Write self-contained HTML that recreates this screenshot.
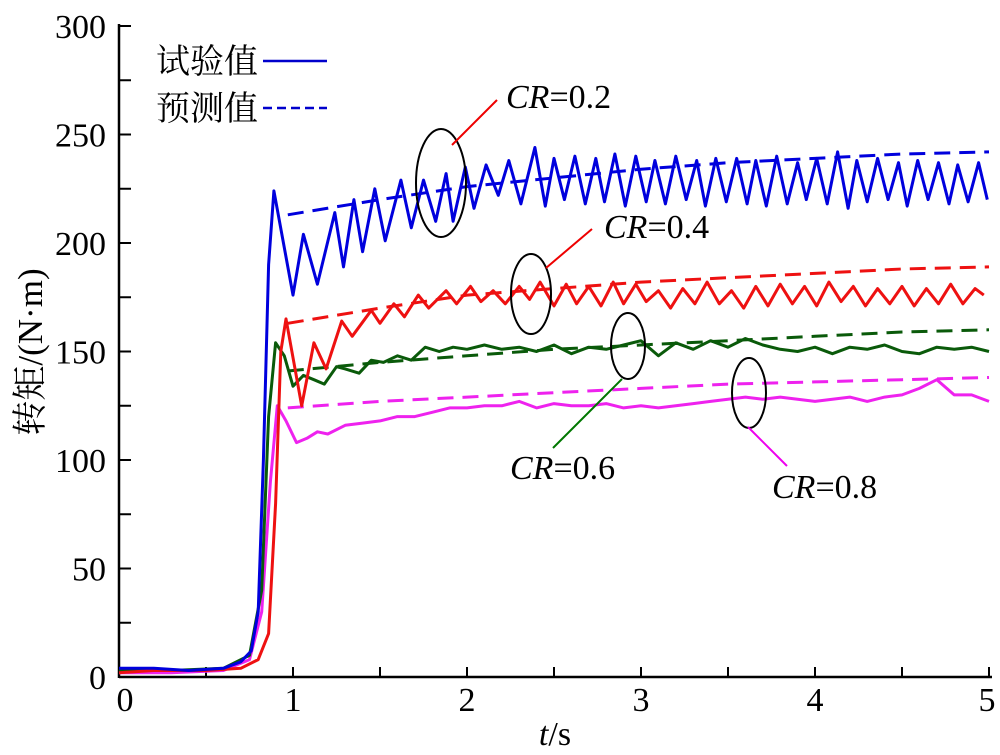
<!DOCTYPE html>
<html><head><meta charset="utf-8"><style>
body{margin:0;background:#fff}
text{font-family:"Liberation Serif","Noto Serif CJK SC",serif;fill:#000}
</style></head><body>
<svg id="chart" width="1000" height="750" xmlns="http://www.w3.org/2000/svg">
<g id="axes"></g>
<g id="series"></g>
<g id="annot">
<ellipse cx="441" cy="183" rx="25" ry="54" fill="none" stroke="#000" stroke-width="2"/>
<line x1="452" y1="145" x2="497" y2="100" stroke="#e00" stroke-width="2"/>
<text x="506" y="108" font-size="34"><tspan font-style="italic">CR</tspan>=0.2</text>
<ellipse cx="531" cy="294" rx="20" ry="40" fill="none" stroke="#000" stroke-width="2"/>
<line x1="546" y1="268" x2="592" y2="229" stroke="#e00" stroke-width="2"/>
<text x="604" y="238" font-size="34"><tspan font-style="italic">CR</tspan>=0.4</text>
<ellipse cx="628" cy="346" rx="17" ry="33" fill="none" stroke="#000" stroke-width="2"/>
<line x1="622" y1="379" x2="553" y2="448" stroke="#070" stroke-width="2"/>
<text x="510" y="479" font-size="34"><tspan font-style="italic">CR</tspan>=0.6</text>
<ellipse cx="749" cy="393" rx="17" ry="35" fill="none" stroke="#000" stroke-width="2"/>
<line x1="748" y1="427" x2="787" y2="466" stroke="#e0e" stroke-width="2"/>
<text x="772" y="498" font-size="34"><tspan font-style="italic">CR</tspan>=0.8</text>
</g>
<g>
<text x="156" y="73" font-size="34" font-family="Noto Sans CJK SC, sans-serif">试验值</text>
<line x1="263" y1="61" x2="327" y2="61" stroke="#00c" stroke-width="2.5"/>
<text x="156" y="120" font-size="34" font-family="Noto Sans CJK SC, sans-serif">预测值</text>
<line x1="263" y1="108" x2="327" y2="108" stroke="#00c" stroke-width="2.5" stroke-dasharray="9,5"/>
</g>
<text transform="translate(42,352) rotate(-90)" text-anchor="middle" font-size="35" font-family="Noto Sans CJK SC, sans-serif">转矩/(N·m)</text>
<text x="555" y="745" text-anchor="middle" font-size="34"><tspan font-style="italic">t</tspan>/s</text>
</svg>
<script>
const xTicks=[0,1,2,3,4,5];
const yTicks=[0,50,100,150,200,250,300];
const blueT=[0,0.2,0.4,0.6,0.7,0.76,0.8,0.83,0.86,0.89,1.0,1.06,1.14,1.24,1.29,1.35,1.40,1.47,1.53,1.62,1.68,1.75,1.82,1.88,1.92,1.99,2.04,2.11,2.18,2.24,2.31,2.39,2.45,2.5,2.56,2.62,2.68,2.74,2.79,2.85,2.91,2.97,3.03,3.08,3.14,3.2,3.26,3.32,3.37,3.43,3.49,3.55,3.61,3.66,3.72,3.78,3.84,3.9,3.95,4.01,4.07,4.13,4.19,4.24,4.3,4.36,4.42,4.48,4.53,4.59,4.65,4.71,4.77,4.82,4.88,4.94,4.99];
const blueV=[4,4,3,4,7,12,30,100,190,224,176,204,181,214,189,220,196,225,201,229,207,229,210,232,210,235,216,236,222,238,218,244,217,239,220,240,218,239,219,241,217,240,219,238,218,240,220,238,217,239,219,239,218,238,217,240,218,237,220,239,218,242,216,238,219,239,220,237,217,238,220,237,218,236,219,237,220];
const redT=[0,0.2,0.5,0.7,0.8,0.86,0.9,0.93,0.96,1.05,1.12,1.19,1.28,1.34,1.45,1.5,1.58,1.64,1.72,1.78,1.88,1.94,2.02,2.08,2.15,2.22,2.3,2.36,2.42,2.5,2.57,2.63,2.7,2.77,2.84,2.9,2.97,3.03,3.1,3.17,3.24,3.31,3.38,3.45,3.52,3.59,3.66,3.73,3.8,3.87,3.94,4.01,4.08,4.15,4.22,4.29,4.36,4.43,4.5,4.57,4.64,4.71,4.78,4.85,4.92,4.97];
const redV=[2,3,3,4,8,20,80,150,165,125,154,142,164,157,169,163,172,166,176,170,178,172,180,173,178,172,180,174,182,171,181,172,180,171,182,172,181,173,178,170,179,172,182,172,178,170,180,171,181,172,180,171,182,173,180,171,179,172,180,171,179,172,181,172,179,176];
const greenT=[0,0.3,0.6,0.75,0.82,0.86,0.9,0.95,1.0,1.06,1.12,1.18,1.25,1.3,1.38,1.45,1.52,1.6,1.68,1.76,1.84,1.92,2.0,2.1,2.2,2.3,2.4,2.5,2.6,2.7,2.8,2.9,3.0,3.1,3.2,3.3,3.4,3.5,3.6,3.7,3.8,3.9,4.0,4.1,4.2,4.3,4.4,4.5,4.6,4.7,4.8,4.9,5.0];
const greenV=[3,3,4,10,40,120,154,148,134,139,137,135,143,142,140,146,145,148,146,152,150,152,151,153,151,152,150,153,149,152,151,153,155,148,154,151,155,152,156,153,151,150,152,149,152,151,153,150,149,152,151,152,150];
const pinkT=[0,0.3,0.6,0.75,0.82,0.87,0.91,0.96,1.02,1.08,1.14,1.2,1.3,1.4,1.5,1.6,1.7,1.8,1.9,2.0,2.1,2.2,2.3,2.4,2.5,2.6,2.7,2.8,2.9,3.0,3.1,3.2,3.3,3.4,3.5,3.6,3.7,3.8,3.9,4.0,4.1,4.2,4.3,4.4,4.5,4.6,4.7,4.8,4.9,5.0];
const pinkV=[2,2,3,8,30,90,125,118,108,110,113,112,116,117,118,120,120,122,124,124,125,125,127,124,126,125,125,126,124,125,124,125,126,127,128,129,128,129,128,127,128,129,127,129,130,133,137,130,130,127];
const predT=[0.97,1.5,2,2.5,3,3.5,4,4.5,5];
const predBlue=[213,220,226,230,234,237,239,241,242];
const predRed=[163,170,176,179,182,184,186,188,189];
const predGreen=[141,145,148,151,153,155,157,159,160];
const predPink=[124,127,129,131,133,135,136,137,138];

const NS='http://www.w3.org/2000/svg';
const X0=119,XS=174,Y0=677,YS=2.17;
const sx=t=>X0+t*XS, sy=v=>Y0-v*YS;
function mk(tag,parent,attrs){const e=document.createElementNS(NS,tag);for(const k in attrs)e.setAttribute(k,attrs[k]);parent.appendChild(e);return e;}
const ax=document.getElementById('axes');
let e=mk('line',ax,{x1:X0,y1:Y0,x2:992,y2:Y0,stroke:'#000','stroke-width':2.5});


e=mk('line',ax,{x1:X0,y1:Y0+1,x2:X0,y2:sy(300)-2,stroke:'#000','stroke-width':2.5});


for(let t=0;t<=5.001;t+=0.5){e=mk('line',ax,{x1:sx(t),y1:Y0,x2:sx(t),y2:Y0-10,stroke:'#000','stroke-width':2});

}
for(let v=0;v<=300;v+=25){e=mk('line',ax,{x1:X0,y1:sy(v),x2:X0+12,y2:sy(v),stroke:'#000','stroke-width':2});

}
xTicks.forEach(t=>{e=mk('text',ax,{x:sx(t)+(t==0?6:(t==5?-2:0)),y:711,'text-anchor':'middle','font-size':34});e.textContent=t;

});
yTicks.forEach(v=>{e=mk('text',ax,{x:106,y:sy(v)+12,'text-anchor':'end','font-size':34});e.textContent=v;

});
const sg=document.getElementById('series');
function line(T,V,color,dash,name){const d=T.map((t,i)=>(i?'L':'M')+sx(t).toFixed(1)+','+sy(V[i]).toFixed(1)).join('');
const p=mk('path',sg,{d:d,fill:'none',stroke:color,'stroke-width':3,'stroke-linejoin':'round'});
if(dash)p.setAttribute('stroke-dasharray','16,9');

}
line(predT,predBlue,'#0000dd',true,'predicted-cr02');
line(predT,predRed,'#ee1111',true,'predicted-cr04');
line(predT,predGreen,'#0a5a0a',true,'predicted-cr06');
line(predT,predPink,'#ee22ee',true,'predicted-cr08');
line(pinkT,pinkV,'#ee22ee',false,'experimental-cr08');
line(greenT,greenV,'#0a5a0a',false,'experimental-cr06');
line(redT,redV,'#ee1111',false,'experimental-cr04');
line(blueT,blueV,'#0000dd',false,'experimental-cr02');
</script>
</body></html>
